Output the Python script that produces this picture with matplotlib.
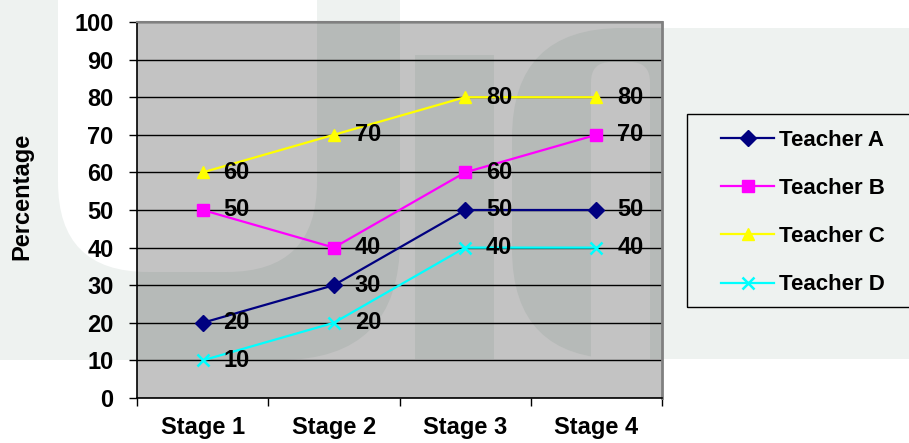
import matplotlib.pyplot as plt
from matplotlib.patches import Rectangle, FancyBboxPatch

stages = ['Stage 1', 'Stage 2', 'Stage 3', 'Stage 4']
teacher_a = [20, 30, 50, 50]
teacher_b = [50, 40, 60, 70]
teacher_c = [60, 70, 80, 80]
teacher_d = [10, 20, 40, 40]

series = [
    ('Teacher A', teacher_a, '#000080', 'D', 8),
    ('Teacher B', teacher_b, '#ff00ff', 's', 8.5),
    ('Teacher C', teacher_c, '#ffff00', '^', 9),
    ('Teacher D', teacher_d, '#00ffff', 'x', 8),
]

plt.rcParams['font.family'] = ['Liberation Sans', 'DejaVu Sans']
plt.rcParams['font.weight'] = 'bold'

fig = plt.figure(figsize=(9.09, 4.43), dpi=100)
fig.patch.set_facecolor('white')

# pixel-space layer for the faint emblem behind everything
bg = fig.add_axes([0, 0, 1, 1], zorder=-10)
bg.set_xlim(0, 909)
bg.set_ylim(443, 0)
bg.axis('off')


def rbox(x0, y0, x1, y1, r, color):
    return FancyBboxPatch((x0 + r, y0 + r), x1 - x0 - 2 * r, y1 - y0 - 2 * r,
                          boxstyle=f'round,pad={r}', lw=0, color=color,
                          transform=bg.transData)


def draw_emblem(target, stroke, gap):
    shapes = [
        rbox(-200, -300, 400, 360, 120, stroke),
        rbox(58, -300, 317, 272, 90, gap),
        rbox(415, 55, 494, 359, 0, stroke),
        rbox(512, 28, 1100, 359, 110, stroke),
        rbox(591, 62, 650, 500, 20, gap),
        rbox(-10, 360, 1000, 500, 0, gap),
    ]
    for p in shapes:
        target.add_patch(p)


bg.add_patch(Rectangle((0, 0), 909, 443, color='white'))
draw_emblem(bg, '#eef2f0', 'white')

ax = fig.add_axes([137 / 909, 1 - 398 / 443, 525 / 909, 376 / 443])
ax.set_facecolor('#c3c3c3')
draw_emblem(ax, '#b6bab8', '#c3c3c3')
for p in ax.patches:
    p.set_zorder(0)

x = list(range(1, len(stages) + 1))
for name, vals, color, marker, ms in series:
    ax.plot(x, vals, color=color, marker=marker, markersize=ms, lw=1.6,
            mew=1.8 if marker == 'x' else 1, label=name, zorder=3)
    for xi, v in zip(x, vals):
        ax.annotate(str(v), (xi, v), xytext=(15, 0), textcoords='offset points',
                    va='center', ha='left', fontsize=17, fontweight='bold', zorder=4)

ax.set_xlim(0.5, 4.5)
ax.set_ylim(0, 100)
ax.set_yticks(range(0, 101, 10))
ax.yaxis.grid(True, color='black', lw=1)
ax.set_axisbelow(True)

ax.set_xticks(x)
ax.set_xticklabels(stages, fontsize=17, fontweight='bold')
ax.set_xticks([0.5, 1.5, 2.5, 3.5, 4.5], minor=True)
ax.tick_params(axis='x', which='major', length=0, pad=13)
ax.tick_params(axis='x', which='minor', length=6, width=1, color='black')
ax.tick_params(axis='y', length=6, width=1, labelsize=17, pad=11)
for lbl in ax.get_yticklabels():
    lbl.set_fontweight('bold')

ax.spines['left'].set_color('black')
ax.spines['bottom'].set_color('black')
ax.spines['top'].set_color('#808080')
ax.spines['right'].set_color('#808080')
ax.spines['top'].set_linewidth(1.5)
ax.spines['right'].set_linewidth(2)
ax.spines['left'].set_linewidth(1.2)
ax.spines['bottom'].set_linewidth(1.2)

fig.text(22 / 909, 1 - 196 / 443, 'Percentage', rotation=90, ha='center',
         va='center', fontsize=17, fontweight='bold')

# legend box runs off the right edge
fig.add_artist(Rectangle((687 / 909, 1 - 307 / 443), 0.3, 193 / 443,
                         transform=fig.transFigure, fill=False, ec='black', lw=1))
fig.legend(loc='upper left', bbox_to_anchor=(701 / 909, 1 - 110 / 443),
           frameon=False, handlelength=2.39, labelspacing=1.22,
           handletextpad=0.23, prop={'weight': 'bold', 'size': 16})

fig.savefig('out.png', dpi=100)
